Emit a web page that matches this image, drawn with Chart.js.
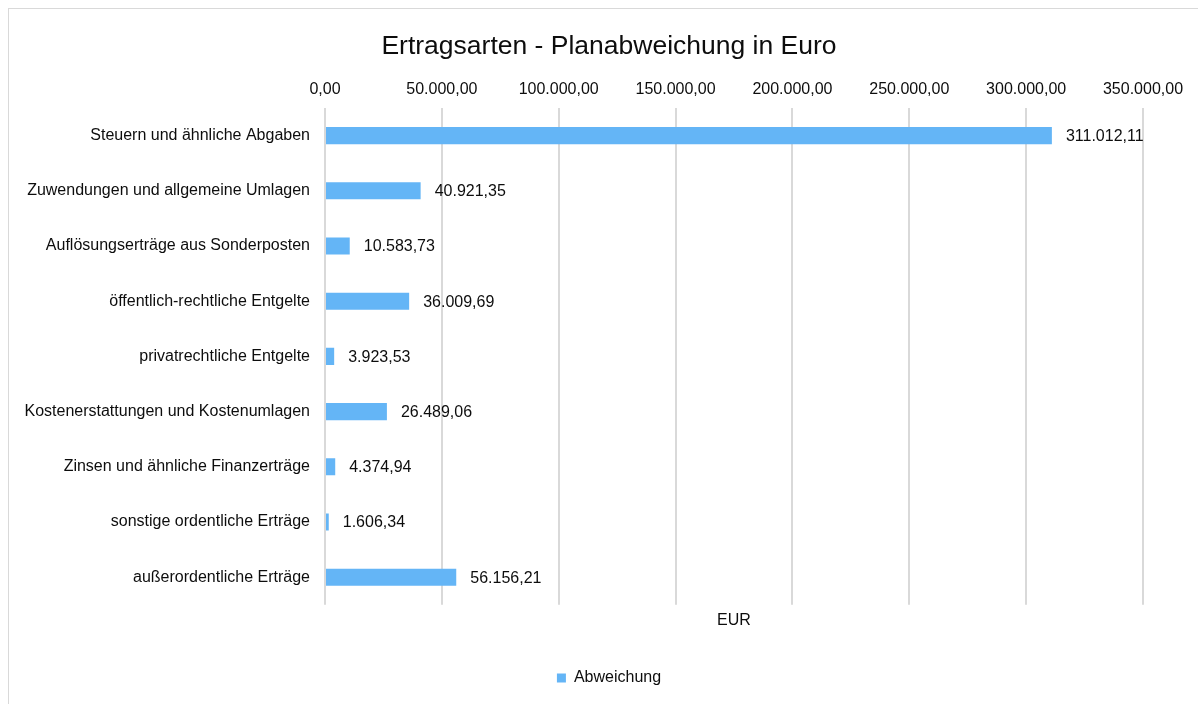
<!DOCTYPE html>
<html>
<head>
<meta charset="utf-8">
<script src="https://cdn.jsdelivr.net/npm/chart.js@4/dist/chart.umd.min.js"></script>
<style>
  html, body { margin: 0; padding: 0; background: #fff; overflow: hidden; }
  #frame { position: absolute; left: 8px; top: 8px; width: 1300px; height: 800px; border: 1px solid #d9d9d9; }
  #chart { position: absolute; left: 0; top: 0; }
</style>
</head>
<body>
<div id="frame"></div>
<canvas id="chart" width="1198" height="704"></canvas>
<script>
const categories = [
  "Steuern und ähnliche Abgaben",
  "Zuwendungen und allgemeine Umlagen",
  "Auflösungserträge aus Sonderposten",
  "öffentlich-rechtliche Entgelte",
  "privatrechtliche Entgelte",
  "Kostenerstattungen und Kostenumlagen",
  "Zinsen und ähnliche Finanzerträge",
  "sonstige ordentliche Erträge",
  "außerordentliche Erträge"
];
const abweichung = [311012.11, 40921.35, 10583.73, 36009.69, 3923.53, 26489.06, 4374.94, 1606.34, 56156.21];
const axisMin = 0;
const axisMax = 350000;
const axisStep = 50000;

function de(v){
  let [i, d] = Math.abs(v).toFixed(2).split('.');
  i = i.replace(/\B(?=(\d{3})+(?!\d))/g, '.');
  return (v < 0 ? '-' : '') + i + ',' + d;
}

const FONT = '"Liberation Sans", Arial, sans-serif';
Chart.defaults.font.family = FONT;
Chart.defaults.font.size = 16;
Chart.defaults.color = '#0d0d0d';

// bar value labels at the end of each bar
const barLabels = {
  id: 'barLabels',
  afterDatasetsDraw(chart){
    const ctx = chart.ctx;
    const meta = chart.getDatasetMeta(0);
    ctx.save();
    ctx.font = '16px ' + FONT;
    ctx.fillStyle = '#0d0d0d';
    ctx.textAlign = 'left';
    ctx.textBaseline = 'middle';
    meta.data.forEach((bar, i) => {
      ctx.fillText(de(chart.data.datasets[0].data[i]), bar.x + 14, bar.y + 1);
    });
    ctx.restore();
  }
};

new Chart(document.getElementById('chart'), {
  type: 'bar',
  data: {
    labels: categories,
    datasets: [{
      label: 'Abweichung',
      data: abweichung,
      backgroundColor: '#64b5f6',
      borderWidth: 0,
      barPercentage: 0.62,
      categoryPercentage: 0.5,
      xAxisID: 'x'
    }]
  },
  options: {
    indexAxis: 'y',
    responsive: false,
    animation: false,
    devicePixelRatio: 1,
    layout: { padding: { left: 20, right: 0, top: 0, bottom: 8 } },
    scales: {
      x: {
        position: 'top',
        min: axisMin,
        max: axisMax,
        grid: { color: '#d9d9d9', lineWidth: 2, drawTicks: false },
        border: { display: false },
        ticks: { stepSize: axisStep, padding: 9, callback: v => de(v) }
      },
      x2: {
        position: 'bottom',
        min: axisMin,
        max: axisMax,
        grid: { display: false, drawTicks: false },
        border: { display: false },
        ticks: { display: false },
        title: { display: true, text: 'EUR', padding: { top: 6, bottom: 30 } }
      },
      y: {
        grid: { display: false, drawTicks: false },
        border: { display: false },
        ticks: { padding: 15 },
        afterFit(scale){ scale.width = 305; }
      },
      yRight: {
        type: 'linear',
        position: 'right',
        grid: { display: false, drawTicks: false },
        border: { display: false },
        ticks: { display: false },
        afterFit(scale){ scale.width = 55; }
      }
    },
    plugins: {
      title: {
        display: true,
        text: 'Ertragsarten - Planabweichung in Euro',
        font: { size: 26.5, weight: 'normal' },
        padding: { top: 31, bottom: 8 }
      },
      legend: {
        position: 'bottom',
        labels: { boxWidth: 9, boxHeight: 9, padding: 10 }
      },
      tooltip: { enabled: false }
    }
  },
  plugins: [barLabels]
});
</script>
</body>
</html>
